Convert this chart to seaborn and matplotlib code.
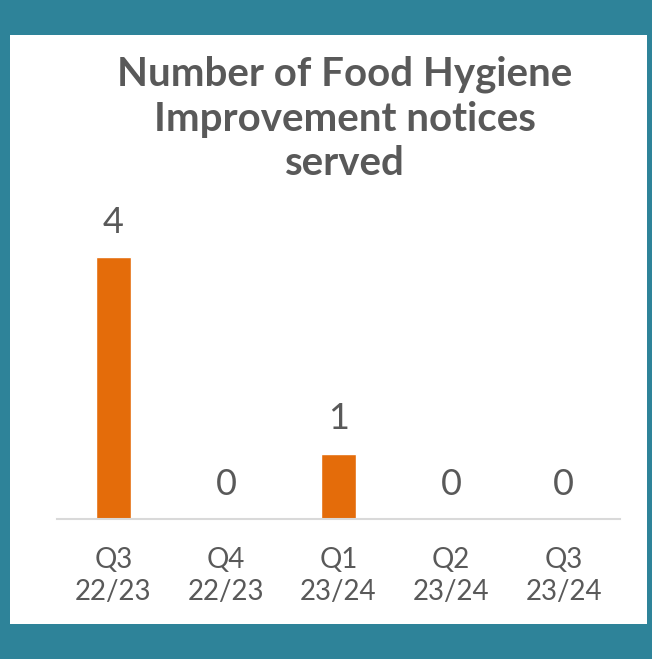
import pandas as pd
import seaborn as sns
import matplotlib.pyplot as plt
from matplotlib.patches import Rectangle

# data
quarters = ["Q3\n22/23", "Q4\n22/23", "Q1\n23/24", "Q2\n23/24", "Q3\n23/24"]
notices = [4, 0, 1, 0, 0]

df = pd.DataFrame({"quarter": quarters, "notices": notices})

teal = "#2E8399"
orange = "#E46C0A"
grey = "#595959"

sns.set_style("white")
plt.rcParams["font.family"] = ["Lato", "DejaVu Sans"]

fig = plt.figure(figsize=(6.52, 6.59), dpi=100)
fig.patch.set_facecolor(teal)
# white panel
fig.patches.append(Rectangle((10 / 652, 1 - 624 / 659), 637 / 652, 589 / 659,
                             transform=fig.transFigure, facecolor="white",
                             edgecolor="none", zorder=0))

ax = fig.add_axes([57 / 652, 140 / 659, 563 / 652, 327.5 / 659])
ax.set_zorder(2)
ax.set_facecolor("none")
sns.barplot(data=df, x="quarter", y="notices", color=orange, width=0.31,
            saturation=1, ax=ax)
ax.set_ylim(0, 5)
ax.set_xlim(-0.5, 4.5)

for i, v in enumerate(notices):
    ax.text(i, v + 0.28, str(v), ha="center", va="bottom", fontsize=26,
            color=grey)

ax.set_xlabel("")
ax.set_ylabel("")
ax.set_yticks([])
ax.tick_params(axis="x", length=0, labelsize=20, labelcolor=grey, pad=20)
for lbl in ax.get_xticklabels():
    lbl.set_linespacing(1.3)
for s in ["top", "right", "left"]:
    ax.spines[s].set_visible(False)
ax.spines["bottom"].set_color("#D9D9D9")
ax.spines["bottom"].set_linewidth(1.5)

fig.text(345 / 652, 1 - 119 / 659,
         "Number of Food Hygiene\nImprovement notices\nserved",
         ha="center", va="center", fontsize=29, fontweight="bold", color=grey,
         linespacing=1.25, zorder=3)

fig.savefig("out.png", dpi=100, facecolor=teal)
